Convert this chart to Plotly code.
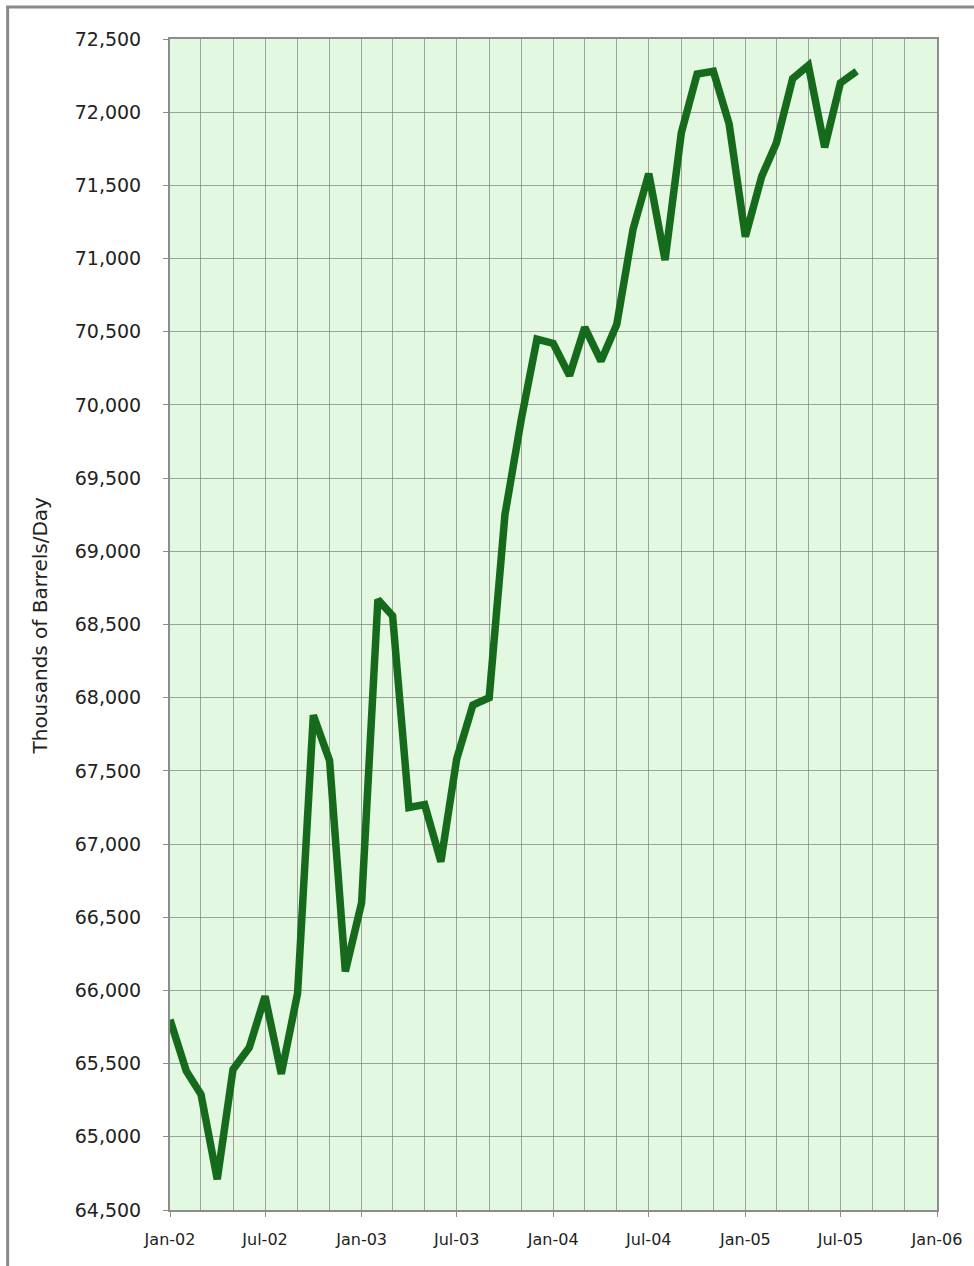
import plotly.graph_objects as go

months = [
    "2002-01", "2002-02", "2002-03", "2002-04", "2002-05", "2002-06",
    "2002-07", "2002-08", "2002-09", "2002-10", "2002-11", "2002-12",
    "2003-01", "2003-02", "2003-03", "2003-04", "2003-05", "2003-06",
    "2003-07", "2003-08", "2003-09", "2003-10", "2003-11", "2003-12",
    "2004-01", "2004-02", "2004-03", "2004-04", "2004-05", "2004-06",
    "2004-07", "2004-08", "2004-09", "2004-10", "2004-11", "2004-12",
    "2005-01", "2005-02", "2005-03", "2005-04", "2005-05", "2005-06",
    "2005-07", "2005-08",
]
production = [
    65800, 65450, 65290, 64710, 65460, 65610,
    65960, 65430, 65980, 67880, 67570, 66130,
    66600, 68670, 68560, 67250, 67270, 66880,
    67580, 67950, 68000, 69250, 69900, 70450,
    70420, 70200, 70530, 70300, 70550, 71200,
    71580, 70990, 71860, 72260, 72280, 71920,
    71150, 71560, 71790, 72230, 72320, 71760,
    72200, 72280,
]
y_title = "Thousands of Barrels/Day"

FONT = "DejaVu Sans"
GRID = "rgba(125,125,125,0.7)"
AXIS = "#8c8c8c"

fig = go.Figure()
fig.add_trace(go.Scatter(
    x=[m + "-01" for m in months],
    y=production,
    mode="lines",
    line=dict(color="#156b1b", width=7.5),
    hoverinfo="x+y",
))

L, R, T, B = 170, 34, 39, 56
W, H = 974, 1266
pw, ph = W - L - R, H - T - B

fig.update_layout(
    width=W, height=H,
    margin=dict(l=L, r=R, t=T, b=B, pad=0),
    paper_bgcolor="white",
    plot_bgcolor="#e3f8e1",
    showlegend=False,
    font=dict(family=FONT, color="#222222"),
)
fig.update_xaxes(
    type="date",
    range=["2002-01-01", "2006-01-01"],
    dtick="M6",
    tick0="2002-01-01",
    tickformat="%b-%y",
    tickfont=dict(size=16, family=FONT, color="#222222"),
    ticks="outside", ticklen=5, tickcolor=AXIS,
    showgrid=True, gridcolor=GRID, gridwidth=1,
    minor=dict(dtick="M2", tick0="2002-01-01", showgrid=True,
               gridcolor=GRID, gridwidth=1, ticks=""),
    showline=True, linecolor=AXIS, linewidth=2, mirror=True,
    ticklabelstandoff=9,
    zeroline=False,
)
fig.update_yaxes(
    range=[64500, 72500],
    dtick=500,
    tick0=64500,
    tickformat=",d",
    tickfont=dict(size=19, family=FONT, color="#222222"),
    ticks="outside", ticklen=5, tickcolor=AXIS,
    showgrid=True, gridcolor=GRID, gridwidth=1,
    showline=True, linecolor=AXIS, linewidth=2, mirror=True,
    ticklabelstandoff=18,
    zeroline=False,
)

# y-axis title placed at the left of the tick labels
fig.add_annotation(
    text=y_title, textangle=-90,
    xref="paper", yref="paper",
    x=(39 - L) / pw, y=(H - B - 626) / ph,
    xanchor="center", yanchor="middle",
    showarrow=False,
    font=dict(size=20, family=FONT, color="#222222"),
)

# outer chart frame
fig.add_shape(
    type="rect", xref="paper", yref="paper",
    x0=(7 - L) / pw, x1=(990 - L) / pw,
    y0=(H - B - 1290) / ph, y1=(H - B - 7) / ph,
    line=dict(color="#8a8a8a", width=3),
    fillcolor="rgba(0,0,0,0)",
    layer="below",
)

fig.write_html(
    "out.html",
    config={"displayModeBar": False},
    post_script="document.body.style.margin='0';document.body.style.overflow='hidden';",
)
